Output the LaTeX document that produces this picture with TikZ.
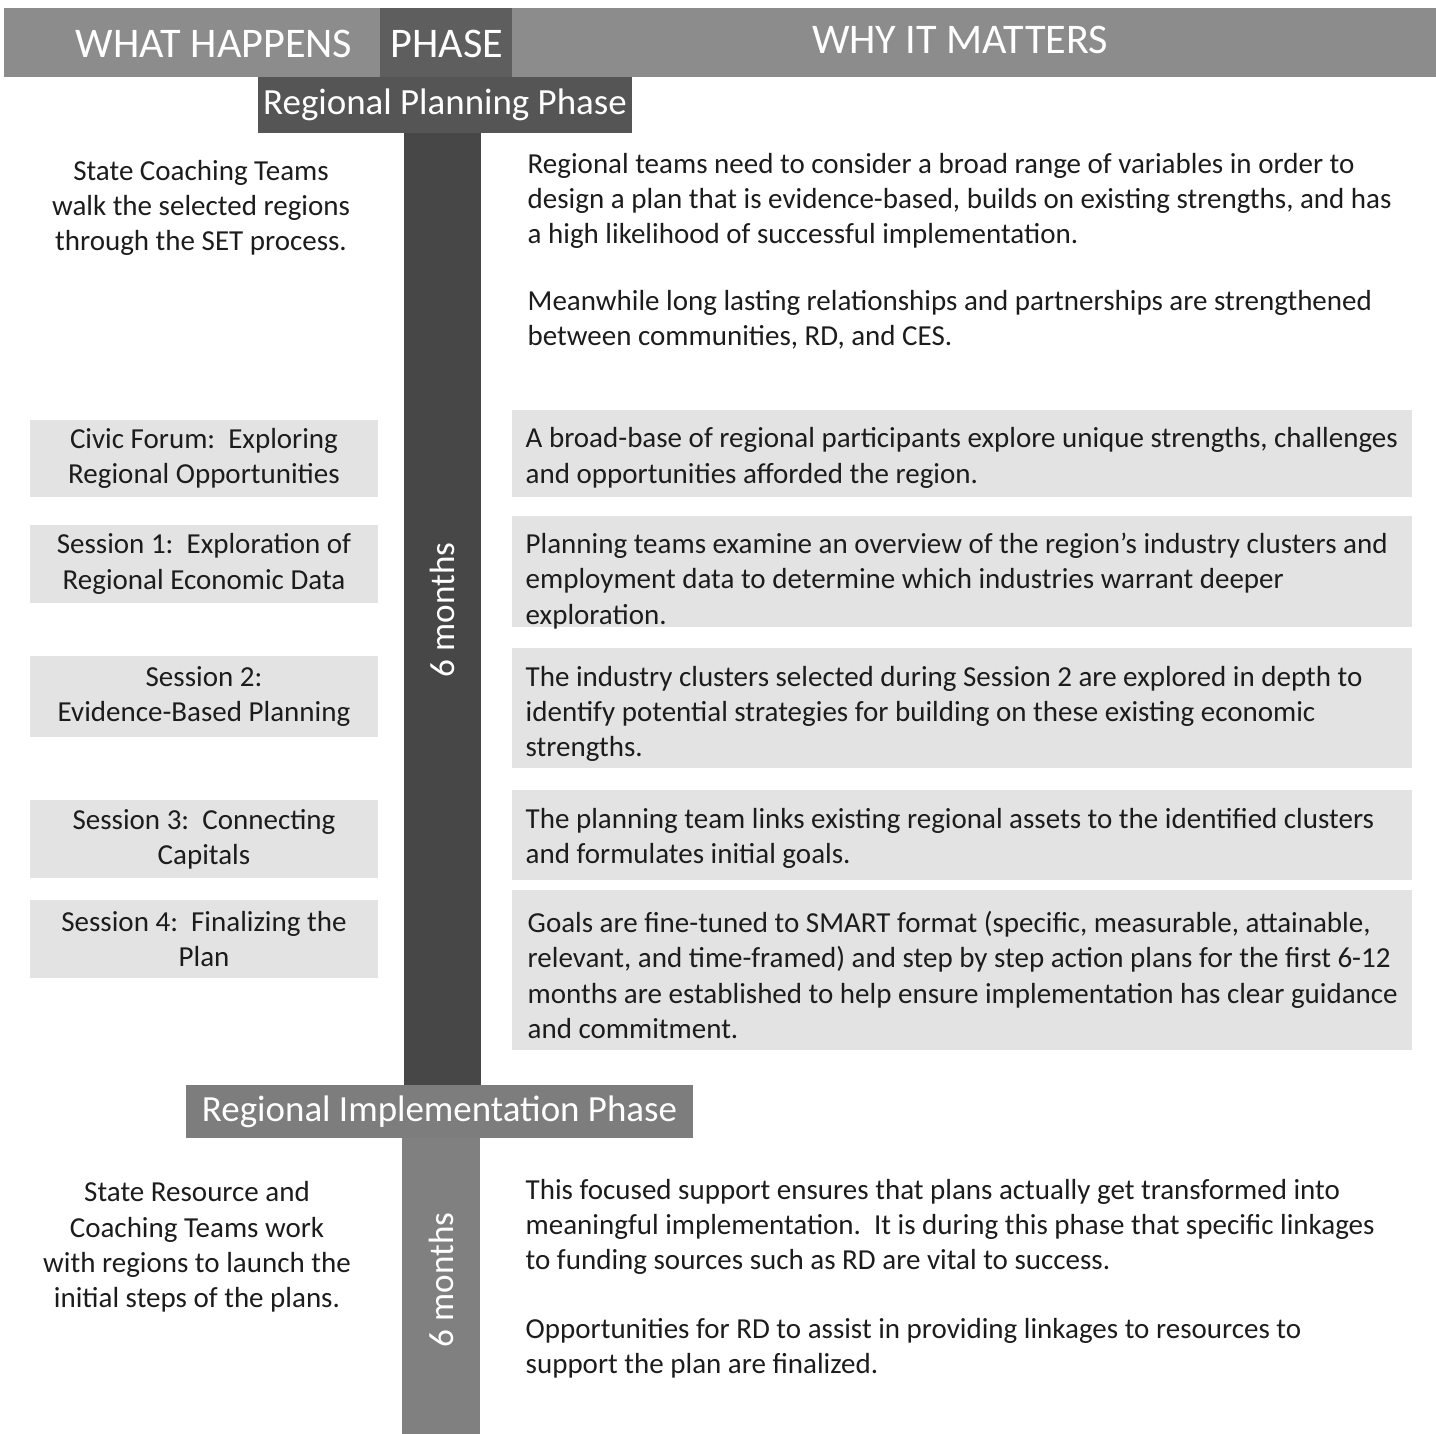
\documentclass[tikz,border=0pt]{standalone}
\usepackage{fontspec}
\setmainfont{Carlito}
\definecolor{headgray}{HTML}{8C8C8C}
\definecolor{phasegray}{HTML}{5E5E5E}
\definecolor{plangray}{HTML}{555555}
\definecolor{spinedark}{HTML}{474747}
\definecolor{implgray}{HTML}{7D7D7D}
\definecolor{spinelight}{HTML}{808080}
\definecolor{boxgray}{HTML}{E3E3E3}
\definecolor{ink}{HTML}{1C1C1C}
\begin{document}
\begin{tikzpicture}[x=0.01cm, y=-0.01cm,
  body/.style={font=\fontsize{8.25}{10}\selectfont, text=ink, inner sep=0pt},
  headtxt/.style={font=\fontsize{12}{14}\selectfont, text=white, inner sep=0pt},
  phasetag/.style={font=\fontsize{10.5}{12}\selectfont, text=white, inner sep=0pt},
  lbox/.style={body, fill=boxgray, minimum width=3.48cm, align=center},
  rtext/.style={body, anchor=west, align=left},
  months/.style={font=\fontsize{10}{12}\selectfont, text=white, rotate=90, inner sep=0pt}]
  \useasboundingbox (0,0) rectangle (1436,1434);
  % header bar
  \fill[headgray] (4,8) rectangle (1436,77);
  \fill[phasegray] (380,8) rectangle (512,77);
  \node[headtxt] (whathappens) at (214,44) {WHAT HAPPENS};
  \node[headtxt] (phase) at (447,44) {PHASE};
  \node[headtxt] (whymatters) at (960,40) {WHY IT MATTERS};
  % spines
  \fill[spinedark] (404,133) rectangle (481,1085);
  \fill[spinelight] (402,1138) rectangle (480,1434);
  \node[phasetag, fill=plangray, minimum width=3.74cm, minimum height=0.56cm] (plan) at (445,105) {Regional Planning Phase};
  \node[phasetag, fill=implgray, minimum width=5.07cm, minimum height=0.53cm] (impl) at (439.5,1111.5) {Regional Implementation Phase};
  \node[months] (months1) at (442,610) {6 months};
  \node[months] (months2) at (441,1280) {6 months};
  % planning phase, left
  \node[body, align=center] (l0) at (201,208) {State Coaching Teams\\walk the selected regions\\through the SET process.};
  \node[lbox, minimum height=0.77cm] (l1) at (204,458.5) {Civic Forum:\ \ Exploring\\Regional Opportunities};
  \node[lbox, minimum height=0.78cm] (l2) at (204,564) {Session 1:\ \ Exploration of\\Regional Economic Data};
  \node[lbox, minimum height=0.81cm] (l3) at (204,696.5) {Session 2:\\Evidence-Based Planning};
  \node[lbox, minimum height=0.78cm] (l4) at (204,839) {Session 3:\ \ Connecting\\Capitals};
  \node[lbox, minimum height=0.78cm] (l5) at (204,939) {Session 4:\ \ Finalizing the\\Plan};
  % planning phase, right
  \fill[boxgray] (512,410) rectangle (1412,497);
  \fill[boxgray] (512,516) rectangle (1412,627);
  \fill[boxgray] (512,648) rectangle (1412,768);
  \fill[boxgray] (512,790) rectangle (1412,880);
  \fill[boxgray] (512,890) rectangle (1412,1050);
  \node[rtext] (r0a) at (527,201) {Regional teams need to consider a broad range of variables in order to\\design a plan that is evidence-based, builds on existing strengths, and has\\a high likelihood of successful implementation.};
  \node[rtext] (r0b) at (527,320) {Meanwhile long lasting relationships and partnerships are strengthened\\between communities, RD, and CES.};
  \node[rtext] (r1) at (525,458) {A broad-base of regional participants explore unique strengths, challenges\\and opportunities afforded the region.};
  \node[rtext] (r2) at (525,581) {Planning teams examine an overview of the region’s industry clusters and\\employment data to determine which industries warrant deeper\\exploration.};
  \node[rtext] (r3) at (525,714) {The industry clusters selected during Session 2 are explored in depth to\\identify potential strategies for building on these existing economic\\strengths.};
  \node[rtext] (r4) at (525,838.5) {The planning team links existing regional assets to the identified clusters\\and formulates initial goals.};
  \node[rtext] (r5) at (527,975) {Goals are fine-tuned to SMART format (specific, measurable, attainable,\\relevant, and time-framed) and step by step action plans for the first 6-12\\months are established to help ensure implementation has clear guidance\\and commitment.};
  % implementation phase
  \node[body, align=center] (l6) at (197,1247) {State Resource and\\Coaching Teams work\\with regions to launch the\\initial steps of the plans.};
  \node[rtext] (r6a) at (525,1227) {This focused support ensures that plans actually get transformed into\\meaningful implementation.\ \ It is during this phase that specific linkages\\to funding sources such as RD are vital to success.};
  \node[rtext] (r6b) at (525,1348) {Opportunities for RD to assist in providing linkages to resources to\\support the plan are finalized.};
\end{tikzpicture}
\end{document}
